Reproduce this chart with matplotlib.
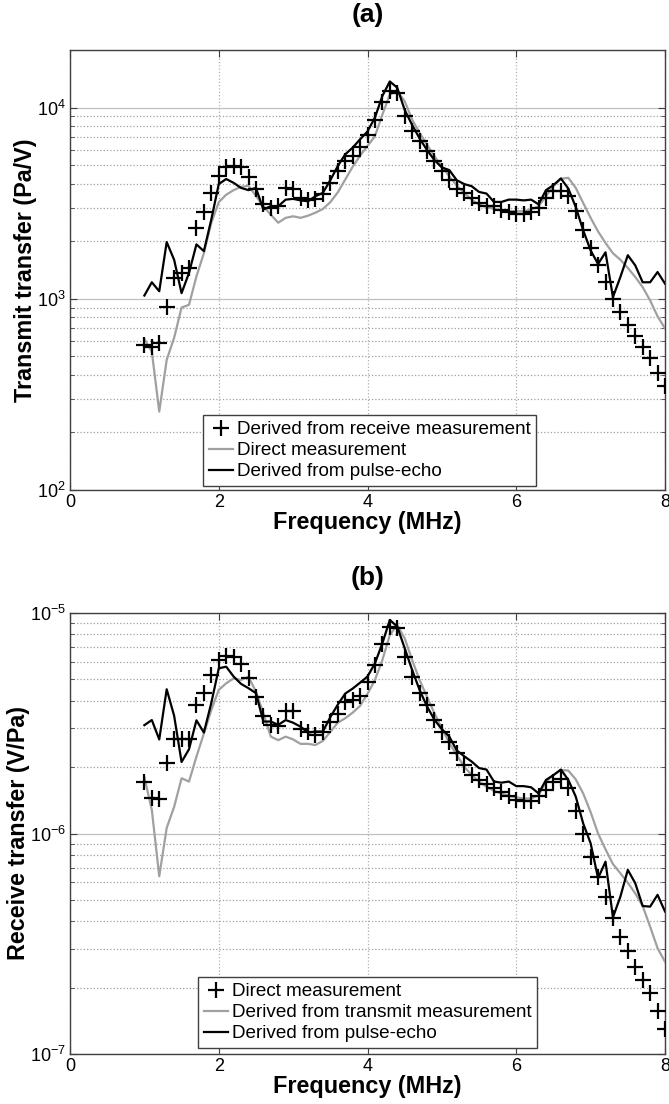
import matplotlib
matplotlib.use('Agg')
import matplotlib.pyplot as plt
from matplotlib.ticker import LogLocator, NullFormatter

plt.rcParams['font.family'] = ['Liberation Sans', 'DejaVu Sans']
plt.rcParams['mathtext.fontset'] = 'custom'
plt.rcParams['mathtext.rm'] = 'Liberation Sans'

# frequency grid (MHz)
freq = [1.0, 1.1, 1.2, 1.3, 1.4, 1.5, 1.6, 1.7, 1.8, 1.9,
        2.0, 2.1, 2.2, 2.3, 2.4, 2.5, 2.6, 2.7, 2.8, 2.9,
        3.0, 3.1, 3.2, 3.3, 3.4, 3.5, 3.6, 3.7, 3.8, 3.9,
        4.0, 4.1, 4.2, 4.3, 4.4, 4.5, 4.6, 4.7, 4.8, 4.9,
        5.0, 5.1, 5.2, 5.3, 5.4, 5.5, 5.6, 5.7, 5.8, 5.9,
        6.0, 6.1, 6.2, 6.3, 6.4, 6.5, 6.6, 6.7, 6.8, 6.9,
        7.0, 7.1, 7.2, 7.3, 7.4, 7.5, 7.6, 7.7, 7.8, 7.9, 8.0]

# (a) transmit transfer, Pa/V
tx_from_receive = [575, 560, 590, 910, 1285, 1365, 1450, 2350, 2840, 3590,
                   4360, 4860, 4960, 4860, 4350, 3740, 3120, 2990, 3050, 3810,
                   3740, 3350, 3280, 3310, 3520, 4050, 4670, 5270, 5600, 6190,
                   7200, 8560, 10670, 12180, 11940, 9020, 7530, 6670, 5910, 5240,
                   4650, 4200, 3730, 3580, 3370, 3170, 3050, 3050, 2930, 2830,
                   2790, 2790, 2830, 2980, 3370, 3650, 3650, 3440, 2870, 2300,
                   1840, 1510, 1220, 995, 850, 731, 635, 559, 489, 409, 348]
tx_direct = [615, 530, 257, 479, 625, 900, 930, 1310, 1730, 2500,
             3200, 3500, 3700, 3850, 3900, 3450, 3050, 2750, 2500, 2650,
             2700, 2650, 2720, 2820, 2950, 3200, 3600, 4200, 4900, 5600,
             6300, 7080, 9190, 11700, 12180, 10800, 8650, 7380, 6400, 5560,
             4930, 4370, 3910, 3580, 3300, 3110, 3020, 2950, 2900, 2870,
             2870, 2870, 2930, 3050, 3440, 3880, 4240, 4290, 3800, 3170,
             2650, 2250, 1960, 1730, 1600, 1450, 1300, 1150, 980, 810, 700]
tx_pulse_echo = [1040, 1220, 1095, 1980, 1600, 1070, 1365, 1925, 1775, 2600,
                 3980, 4230, 4040, 3800, 3700, 3800, 2930, 3050, 3050, 3300,
                 3330, 3270, 3235, 3440, 3580, 4170, 4940, 5690, 6170, 6820,
                 7500, 8870, 11500, 13700, 12700, 9720, 8110, 6900, 6000, 5310,
                 4860, 4710, 4170, 3980, 3880, 3620, 3550, 3210, 3210, 3300,
                 3300, 3270, 3300, 3120, 3700, 3930, 4260, 3770, 3020, 2280,
                 1790, 1520, 1750, 1020, 1300, 1690, 1495, 1220, 1220, 1380, 1200]

# (b) receive transfer, V/Pa
rx_direct = [1.72e-6, 1.45e-6, 1.43e-6, 2.09e-6, 2.67e-6, 2.67e-6, 2.67e-6, 3.84e-6, 4.35e-6, 5.21e-6,
             6.10e-6, 6.38e-6, 6.33e-6, 5.89e-6, 5.07e-6, 4.16e-6, 3.41e-6, 3.10e-6, 3.08e-6, 3.58e-6,
             3.58e-6, 2.99e-6, 2.89e-6, 2.81e-6, 2.89e-6, 3.19e-6, 3.50e-6, 3.93e-6, 4.02e-6, 4.21e-6,
             4.85e-6, 5.82e-6, 7.24e-6, 8.68e-6, 8.53e-6, 6.30e-6, 5.11e-6, 4.33e-6, 3.83e-6, 3.28e-6,
             2.90e-6, 2.61e-6, 2.31e-6, 2.05e-6, 1.84e-6, 1.75e-6, 1.68e-6, 1.60e-6, 1.55e-6, 1.48e-6,
             1.42e-6, 1.40e-6, 1.41e-6, 1.48e-6, 1.57e-6, 1.72e-6, 1.76e-6, 1.60e-6, 1.27e-6, 1.00e-6,
             7.86e-7, 6.37e-7, 5.17e-7, 4.13e-7, 3.41e-7, 2.92e-7, 2.49e-7, 2.17e-7, 1.89e-7, 1.56e-7, 1.30e-7]
rx_from_transmit = [1.80e-6, 1.28e-6, 6.4e-7, 1.06e-6, 1.32e-6, 1.78e-6, 1.72e-6, 2.23e-6, 2.84e-6, 3.63e-6,
                    4.48e-6, 4.80e-6, 5.05e-6, 4.97e-6, 5.14e-6, 4.40e-6, 3.51e-6, 2.75e-6, 2.65e-6, 2.75e-6,
                    2.67e-6, 2.55e-6, 2.55e-6, 2.52e-6, 2.63e-6, 2.89e-6, 3.18e-6, 3.33e-6, 3.53e-6, 3.79e-6,
                    4.30e-6, 4.97e-6, 6.12e-6, 7.94e-6, 8.82e-6, 7.68e-6, 6.12e-6, 4.97e-6, 4.17e-6, 3.51e-6,
                    3.00e-6, 2.57e-6, 2.27e-6, 2.01e-6, 1.84e-6, 1.72e-6, 1.63e-6, 1.56e-6, 1.52e-6, 1.48e-6,
                    1.46e-6, 1.44e-6, 1.44e-6, 1.49e-6, 1.72e-6, 1.84e-6, 1.94e-6, 1.93e-6, 1.76e-6, 1.52e-6,
                    1.25e-6, 1.00e-6, 8.48e-7, 7.27e-7, 6.60e-7, 5.98e-7, 5.35e-7, 4.69e-7, 3.78e-7, 3.02e-7, 2.62e-7]
rx_pulse_echo = [3.10e-6, 3.27e-6, 2.67e-6, 4.51e-6, 3.42e-6, 2.11e-6, 2.41e-6, 3.26e-6, 2.87e-6, 3.91e-6,
                 5.61e-6, 5.71e-6, 5.15e-6, 4.77e-6, 4.56e-6, 4.33e-6, 3.22e-6, 3.22e-6, 3.11e-6, 3.27e-6,
                 3.18e-6, 3.05e-6, 2.87e-6, 2.90e-6, 2.90e-6, 3.37e-6, 3.84e-6, 4.31e-6, 4.54e-6, 4.83e-6,
                 5.15e-6, 5.91e-6, 7.29e-6, 9.30e-6, 8.68e-6, 6.92e-6, 5.52e-6, 4.48e-6, 3.77e-6, 3.28e-6,
                 2.97e-6, 2.75e-6, 2.38e-6, 2.24e-6, 2.12e-6, 1.98e-6, 1.95e-6, 1.72e-6, 1.70e-6, 1.72e-6,
                 1.64e-6, 1.64e-6, 1.62e-6, 1.52e-6, 1.75e-6, 1.84e-6, 1.95e-6, 1.75e-6, 1.47e-6, 1.11e-6,
                 9.03e-7, 6.27e-7, 7.45e-7, 4.17e-7, 5.17e-7, 6.84e-7, 5.95e-7, 4.69e-7, 4.66e-7, 5.27e-7, 4.43e-7]

x_ticks = [0, 2, 4, 6, 8]

panels = [
    dict(title='(a)', ylabel='Transmit transfer (Pa/V)', ylim=(1e2, 2e4),
         series=[tx_from_receive, tx_direct, tx_pulse_echo],
         labels=['Derived from receive measurement', 'Direct measurement',
                 'Derived from pulse-echo'],
         rect=[70 / 669, 1 - 490 / 1104, 595 / 669, 440 / 1104],
         legend_anchor=(0.2235, 0.009)),
    dict(title='(b)', ylabel='Receive transfer (V/Pa)', ylim=(1e-7, 1e-5),
         series=[rx_direct, rx_from_transmit, rx_pulse_echo],
         labels=['Direct measurement', 'Derived from transmit measurement',
                 'Derived from pulse-echo'],
         rect=[70 / 669, 1 - 1054 / 1104, 595 / 669, 441 / 1104],
         legend_anchor=(0.215, 0.0136)),
]

fig = plt.figure(figsize=(6.69, 11.04), dpi=100)

for p in panels:
    ax = fig.add_axes(p['rect'])
    marks, direct, echo = p['series']
    ax.plot(freq, direct, color='#a0a0a0', lw=1.6, label=p['labels'][1], zorder=3)
    ax.plot(freq, echo, color='black', lw=1.6, label=p['labels'][2], zorder=4)
    ax.plot(freq, marks, ls='none', marker='+', ms=11, mew=1.6, color='black',
            label=p['labels'][0], zorder=5)

    ax.set_yscale('log')
    ax.set_xlim(0, 8)
    ax.set_ylim(*p['ylim'])
    ax.set_xticks(x_ticks)
    ax.yaxis.set_major_locator(LogLocator(base=10, numticks=10))
    ax.yaxis.set_minor_locator(LogLocator(base=10, subs=range(2, 10), numticks=20))
    ax.yaxis.set_minor_formatter(NullFormatter())

    # grid in the style of the original
    ax.grid(True, which='major', axis='x', color='#b0b0b0', ls=':', lw=0.9)
    ax.grid(True, which='major', axis='y', color='#c0c0c0', ls='-', lw=0.9)
    ax.grid(True, which='minor', axis='y', color='#a0a0a0', ls=':', lw=0.9)
    ax.set_axisbelow(True)

    ax.tick_params(which='both', direction='in', top=True, right=True,
                   color='#404040', labelsize=13, pad=3)
    ax.tick_params(which='major', length=5)
    ax.tick_params(which='minor', length=3)
    for s in ax.spines.values():
        s.set_color('#404040')
        s.set_linewidth(1.0)

    ax.set_title(p['title'], fontsize=19, fontweight='bold', pad=20)
    ax.set_xlabel('Frequency (MHz)', fontsize=16.8, fontweight='bold', labelpad=0)
    ax.set_ylabel(p['ylabel'], fontsize=16.8, fontweight='bold', labelpad=0)

    h, l = ax.get_legend_handles_labels()
    order = [2, 0, 1]
    leg = ax.legend([h[i] for i in order], [l[i] for i in order],
                    loc='lower left', bbox_to_anchor=p['legend_anchor'],
                    fontsize=13.6, frameon=True, fancybox=False, framealpha=1,
                    edgecolor='#404040', handlelength=1.3, handletextpad=0.2,
                    borderpad=0.3, labelspacing=0.2, borderaxespad=0)
    leg.get_frame().set_linewidth(1.0)

fig.savefig('out.png', dpi=100)
